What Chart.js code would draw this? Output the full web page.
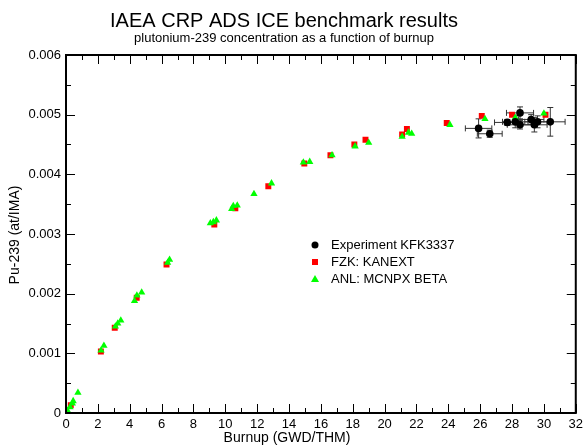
<!DOCTYPE html>
<html>
<head>
<meta charset="utf-8">
<script src="https://cdn.jsdelivr.net/npm/chart.js@4.4.0/dist/chart.umd.min.js"></script>
<style>
  html, body { margin: 0; padding: 0; background: #fff; }
  #wrap { width: 587px; height: 448px; }
</style>
</head>
<body>
<div id="wrap"><canvas id="pu239Chart" width="587" height="448"></canvas></div>
<script>
// Burnup (GWD/THM) vs Pu-239 (at/IMA)
const expBurnup = [25.9, 26.6, 27.7, 28.2, 28.5, 28.5, 29.2, 29.4, 29.6, 30.4];
const expPu = [0.00477, 0.00468, 0.00487, 0.00488, 0.00503, 0.00483, 0.00492, 0.00483, 0.00488, 0.00488];
const expBurnupErr = [0.83, 0.78, 0.8, 0.8, 0.85, 0.8, 0.8, 0.8, 0.8, 0.93];
const expPuErr = [0.00016, 0.00006, 0.00005, 0.0001, 0.0001, 0.00007, 0.00008, 0.00012, 0.0001, 0.00024];

const fzkBurnup = [0, 0.3, 2.19, 3.06, 4.44, 6.31, 9.31, 10.63, 12.7, 14.96, 16.6, 18.1, 18.8, 21.1, 21.4, 23.9, 26.1, 28.0, 30.1];
const fzkPu = [0, 0.00013, 0.00103, 0.00143, 0.00193, 0.00249, 0.00316, 0.00343, 0.0038, 0.00418, 0.00432, 0.0045, 0.00458, 0.00467, 0.00476, 0.00486, 0.00498, 0.005, 0.005];

const anlBurnup = [0, 0.1, 0.25, 0.4, 0.45, 0.75, 2.2, 2.38, 3.1, 3.25, 3.44, 4.3, 4.45, 4.75, 6.38, 6.5, 9.06, 9.25, 9.44, 10.4, 10.5, 10.75, 11.8, 12.9, 14.9, 15.3, 16.7, 18.15, 19.0, 21.1, 21.5, 21.7, 24.1, 26.3, 28.2, 30.0];
const anlPu = [0, 0.00004, 0.0001, 0.00016, 0.0002, 0.00034, 0.00105, 0.00113, 0.00145, 0.0015, 0.00155, 0.00188, 0.00197, 0.00202, 0.00252, 0.00257, 0.00318, 0.0032, 0.00323, 0.00342, 0.00347, 0.00348, 0.00367, 0.00385, 0.0042, 0.00421, 0.00432, 0.00447, 0.00453, 0.00463, 0.0047, 0.00468, 0.00483, 0.00493, 0.00495, 0.00502];

const seriesNames = ["Experiment KFK3337", "FZK: KANEXT", "ANL: MCNPX BETA"];
const xTickStep = 2;
const yTickStep = 0.001;

const FONT = "'Liberation Sans', Arial, Helvetica, sans-serif";

function toPoints(xs, ys) {
  return xs.map((x, i) => ({ x: x, y: ys[i] }));
}

// barras de erro do experimento
const errorBars = {
  id: "errorBars",
  beforeDatasetsDraw(chart) {
    const ctx = chart.ctx;
    const sx = chart.scales.x, sy = chart.scales.y;
    ctx.save();
    ctx.strokeStyle = "#333";
    ctx.lineWidth = 1;
    expBurnup.forEach((b, i) => {
      const px = sx.getPixelForValue(b);
      const py = sy.getPixelForValue(expPu[i]);
      const x0 = sx.getPixelForValue(b - expBurnupErr[i]);
      const x1 = sx.getPixelForValue(b + expBurnupErr[i]);
      const y0 = sy.getPixelForValue(expPu[i] - expPuErr[i]);
      const y1 = sy.getPixelForValue(expPu[i] + expPuErr[i]);
      ctx.beginPath();
      ctx.moveTo(x0, py); ctx.lineTo(x1, py);
      ctx.moveTo(x0, py - 3); ctx.lineTo(x0, py + 3);
      ctx.moveTo(x1, py - 3); ctx.lineTo(x1, py + 3);
      ctx.moveTo(px, y0); ctx.lineTo(px, y1);
      ctx.moveTo(px - 3, y0); ctx.lineTo(px + 3, y0);
      ctx.moveTo(px - 3, y1); ctx.lineTo(px + 3, y1);
      ctx.stroke();
    });
    ctx.restore();
  }
};

// moldura, ticks internos, titulos e legenda
const frame = {
  id: "frame",
  afterDraw(chart) {
    const ctx = chart.ctx;
    const a = chart.chartArea;
    const sx = chart.scales.x, sy = chart.scales.y;
    ctx.save();
    ctx.strokeStyle = "#000";
    ctx.lineWidth = 1;
    ctx.beginPath();
    for (let v = sx.min; v <= sx.max; v += 1) {
      const px = Math.round(sx.getPixelForValue(v)) + 0.5;
      const len = v % 2 === 0 ? 9 : 5;
      ctx.moveTo(px, a.bottom); ctx.lineTo(px, a.bottom - len);
      ctx.moveTo(px, a.top); ctx.lineTo(px, a.top + len);
    }
    for (let k = 0; k <= 12; k++) {
      const py = Math.round(sy.getPixelForValue(k * 0.0005)) + 0.5;
      const len = k % 2 === 0 ? 9 : 5;
      ctx.moveTo(a.left, py); ctx.lineTo(a.left + len, py);
      ctx.moveTo(a.right, py); ctx.lineTo(a.right - len, py);
    }
    ctx.stroke();
    ctx.lineWidth = 2;
    ctx.strokeRect(a.left, a.top, a.right - a.left, a.bottom - a.top);

    ctx.fillStyle = "#000";
    ctx.textAlign = "center";
    ctx.textBaseline = "alphabetic";
    ctx.font = "20px " + FONT;
    ctx.fillText("IAEA CRP ADS ICE benchmark results", 284, 27);
    ctx.font = "13px " + FONT;
    ctx.fillText("plutonium-239 concentration as a function of burnup", 284, 42);
    ctx.font = "14px " + FONT;
    ctx.fillText("Burnup (GWD/THM)", 287, 442);
    ctx.save();
    ctx.translate(19, 235);
    ctx.rotate(-Math.PI / 2);
    ctx.fillText("Pu-239 (at/IMA)", 0, 0);
    ctx.restore();

    // legenda
    const lx = 315, ly = [245, 262, 279];
    ctx.textAlign = "left";
    ctx.textBaseline = "middle";
    ctx.font = "13px " + FONT;
    ctx.fillStyle = "#000";
    ctx.beginPath(); ctx.arc(lx, ly[0], 3.5, 0, Math.PI * 2); ctx.fill();
    ctx.fillStyle = "#ff0000";
    ctx.fillRect(lx - 3, ly[1] - 3, 6, 6);
    ctx.fillStyle = "#00ff00";
    ctx.beginPath();
    ctx.moveTo(lx, ly[2] - 4); ctx.lineTo(lx + 4, ly[2] + 3); ctx.lineTo(lx - 4, ly[2] + 3);
    ctx.closePath(); ctx.fill();
    ctx.fillStyle = "#000";
    seriesNames.forEach((n, i) => ctx.fillText(n, lx + 16, ly[i]));
    ctx.restore();
  }
};

new Chart(document.getElementById("pu239Chart").getContext("2d"), {
  type: "scatter",
  data: {
    datasets: [
      {
        label: seriesNames[0],
        data: toPoints(expBurnup, expPu),
        backgroundColor: "#000",
        borderColor: "#000",
        pointStyle: "circle",
        pointRadius: 3.8,
        borderWidth: 0,
        order: 0,
      },
      {
        label: seriesNames[1],
        data: toPoints(fzkBurnup, fzkPu),
        backgroundColor: "#ff0000",
        borderColor: "#ff0000",
        pointStyle: "rect",
        pointRadius: 4.2,
        borderWidth: 0,
        order: 2,
      },
      {
        label: seriesNames[2],
        data: toPoints(anlBurnup, anlPu),
        backgroundColor: "#00ff00",
        borderColor: "#00ff00",
        pointStyle: "triangle",
        pointRadius: 4.2,
        borderWidth: 0,
        order: 1,
      },
    ],
  },
  options: {
    responsive: false,
    devicePixelRatio: 1,
    animation: false,
    layout: { padding: { top: 55, right: 10, left: 0, bottom: 0 } },
    plugins: {
      legend: { display: false },
      title: { display: false },
      tooltip: { enabled: false },
    },
    scales: {
      x: {
        type: "linear",
        min: 0,
        max: 32,
        grid: { display: false, drawTicks: false },
        border: { display: false },
        ticks: {
          stepSize: xTickStep,
          padding: 4,
          color: "#000",
          font: { family: FONT, size: 13 },
          maxRotation: 0,
        },
        afterFit: (scale) => { scale.height = 35; },
      },
      y: {
        type: "linear",
        min: 0,
        max: 0.006,
        grid: { display: false, drawTicks: false },
        border: { display: false },
        ticks: {
          stepSize: yTickStep,
          padding: 5,
          color: "#000",
          font: { family: FONT, size: 13 },
          callback: (v) => (v === 0 ? "0" : Number(v).toFixed(3)),
        },
        afterFit: (scale) => { scale.width = 66; },
      },
    },
  },
  plugins: [errorBars, frame],
});
</script>
</body>
</html>
